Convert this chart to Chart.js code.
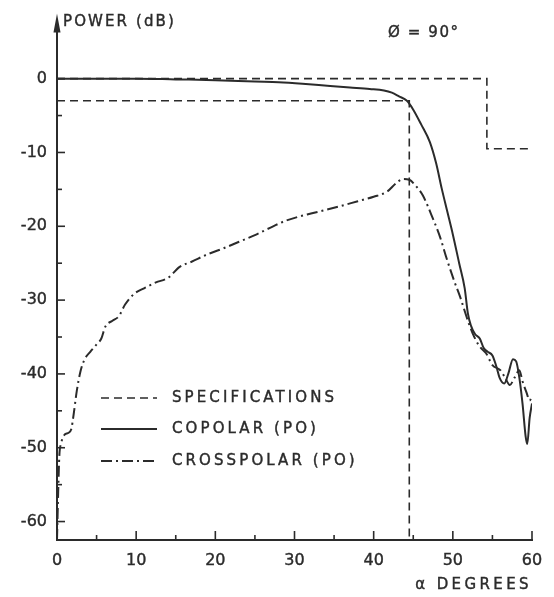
<!DOCTYPE html>
<html lang="en">
<head>
  <meta charset="UTF-8" />
  <title>Power pattern, phi = 90</title>
  <script src="https://cdn.jsdelivr.net/npm/chart.js"></script>
  <style>
    * { margin: 0; padding: 0; box-sizing: border-box; }
    body { background: #fff; }
    .wrap { width: 554px; height: 597px; }
  </style>
</head>
<body>
  <div class="wrap"><canvas id="plot"></canvas></div>
  <script>
    // spec mask: 0 dB up to 54.3 deg then -9.5 dB; -3 dB line up to 44.5 deg then vertical cut
    const specDeg = [0, 54.3, 54.3, 60, null, 0, 44.5, 44.5];
    const specDb  = [0, 0, -9.5, -9.5, null, -3, -3, -62.5];

    const copolarDeg = [0, 5, 10, 15, 20, 25, 28, 31, 34.5, 37, 39.5, 41.3, 42.3, 43.2, 44.2, 45, 46, 47.1, 47.9, 48.6, 49.3, 50, 50.8, 51.5, 51.9, 52.3, 52.8, 53.4, 53.9, 54.4, 55, 55.5, 55.9, 56.5, 57, 57.6, 58, 58.4, 58.8, 59.2, 59.4, 59.7, 60];
    const copolarDb  = [0, 0, 0, -0.1, -0.2, -0.4, -0.5, -0.7, -1.0, -1.2, -1.4, -1.6, -1.9, -2.4, -3.0, -4.2, -6.2, -8.6, -11.5, -14.9, -18, -21.1, -25, -28.4, -31.8, -33.5, -34.6, -35.2, -36.5, -37, -37.5, -39, -40.5, -41.3, -40, -38, -38.3, -40.5, -44, -48.5, -49.5, -46, -44];

    const crossDeg = [0, 0.15, 0.3, 0.5, 0.9, 1.4, 1.8, 2.1, 2.5, 3.0, 3.5, 4.2, 5.0, 5.6, 6.1, 7.0, 7.8, 8.6, 9.8, 11, 12.5, 14, 15.5, 17, 19, 21, 23, 25, 27.3, 29, 31.6, 33.5, 35.7, 38, 40, 41.7, 42.8, 43.7, 44.5, 45.3, 46.2, 47.5, 48.4, 49.2, 50.2, 50.9, 51.9, 52.5, 53.4, 54.2, 55, 56, 56.6, 57.2, 57.8, 58.4, 58.8, 59.3, 59.7, 60];
    const crossDb  = [-62.5, -56, -51, -49.5, -48.3, -48, -47.5, -45.5, -42.3, -39.5, -38, -37, -36, -35.2, -33.6, -32.8, -32.2, -30.6, -29.1, -28.4, -27.6, -27, -25.5, -24.8, -23.8, -23, -22.1, -21.2, -20, -19.2, -18.4, -17.9, -17.3, -16.6, -16, -15.3, -14.2, -13.6, -13.7, -14.5, -15.8, -19, -21.5, -24.3, -27.5, -29.5, -32.8, -34.5, -36.3, -37.2, -38.8, -39.5, -40.5, -41.5, -40.5, -39.5, -41, -42.5, -43.6, -43];

    const xTicks = [0, 10, 20, 30, 40, 50, 60];
    const yTicks = [0, -10, -20, -30, -40, -50, -60];

    const ink = '#2b2b2b';
    const pts = (xs, ys) => xs.map((x, i) => ({ x: x === null ? NaN : x, y: ys[i] }));

    function label(ctx, text, x, y) {
      ctx.fillText(text, x, y);
      ctx.strokeText(text, x, y);
    }

    // inward tick marks, axis arrow, free labels and the legend block
    const decor = {
      id: 'decor',
      afterDraw(chart) {
        const { ctx, chartArea, scales } = chart;
        const ax = scales.x.getPixelForValue(0);
        const ay = chartArea.bottom;
        ctx.save();
        ctx.fillStyle = ink;
        ctx.strokeStyle = ink;
        ctx.lineWidth = 1.6;

        scales.x.ticks.forEach(t => {
          const px = scales.x.getPixelForValue(t.value);
          const len = xTicks.includes(t.value) ? 9 : 5;
          ctx.beginPath(); ctx.moveTo(px, ay); ctx.lineTo(px, ay - len); ctx.stroke();
        });
        scales.y.ticks.forEach(t => {
          const py = scales.y.getPixelForValue(t.value);
          const len = yTicks.includes(t.value) ? 8 : 5;
          ctx.beginPath(); ctx.moveTo(ax, py); ctx.lineTo(ax + len, py); ctx.stroke();
        });

        // arrow at top of power axis
        ctx.beginPath();
        ctx.moveTo(ax, chartArea.top - 6);
        ctx.lineTo(ax - 3.5, chartArea.top + 13);
        ctx.lineTo(ax + 3.5, chartArea.top + 13);
        ctx.closePath();
        ctx.fill();

        ctx.font = '15px "DejaVu Sans"';
        ctx.lineWidth = 0.4;
        ctx.letterSpacing = '2.1px';
        ctx.textBaseline = 'middle';
        ctx.textAlign = 'left';
        label(ctx, 'POWER (dB)', ax + 6, 22);
        ctx.letterSpacing = '1.6px';
        label(ctx, 'Ø = 90°', 388, 33);
        ctx.letterSpacing = '3.4px';
        ctx.textAlign = 'right';
        label(ctx, 'α DEGREES', scales.x.right, 585);

        // legend
        ctx.textAlign = 'left';
        ctx.letterSpacing = '3.1px';
        const rows = [398, 429, 461];
        chart.data.datasets.forEach((ds, i) => {
          const y = rows[i];
          ctx.beginPath();
          ctx.setLineDash(ds.borderDash || []);
          ctx.lineWidth = ds.borderWidth;
          ctx.moveTo(101, y);
          ctx.lineTo(157, y);
          ctx.stroke();
          ctx.setLineDash([]);
          ctx.lineWidth = 0.4;
          label(ctx, ds.label, 172, y);
        });
        ctx.restore();
      }
    };

    new Chart(document.getElementById('plot'), {
      type: 'line',
      data: {
        datasets: [
          { label: 'SPECIFICATIONS', data: pts(specDeg, specDb), borderColor: ink, borderWidth: 1.6, borderDash: [8, 5], pointRadius: 0, spanGaps: false, tension: 0 },
          { label: 'COPOLAR (PO)', data: pts(copolarDeg, copolarDb), borderColor: ink, borderWidth: 2, pointRadius: 0, cubicInterpolationMode: 'monotone' },
          { label: 'CROSSPOLAR (PO)', data: pts(crossDeg, crossDb), borderColor: ink, borderWidth: 2, borderDash: [11, 4, 2, 4], pointRadius: 0, cubicInterpolationMode: 'monotone' }
        ]
      },
      options: {
        responsive: true,
        maintainAspectRatio: false,
        animation: false,
        layout: { padding: { top: 9.5, right: 22, left: 0, bottom: 0 } },
        plugins: { legend: { display: false }, tooltip: { enabled: false } },
        scales: {
          x: {
            type: 'linear', min: 0, max: 60,
            afterBuildTicks: s => { s.ticks = [0, 5, 10, 15, 20, 25, 30, 35, 40, 45, 50, 55, 60].map(v => ({ value: v })); },
            afterFit: s => { s.height = 57; },
            border: { color: ink, width: 2 },
            grid: { drawOnChartArea: false, drawTicks: false },
            ticks: {
              padding: 11, color: ink, font: { family: 'DejaVu Sans', size: 16 }, maxRotation: 0,
              textStrokeColor: ink, textStrokeWidth: 0.4,
              callback: v => xTicks.includes(v) ? String(v) : ''
            }
          },
          y: {
            type: 'linear', min: -62.5, max: 8,
            afterBuildTicks: s => { s.ticks = [0, -5, -10, -15, -20, -25, -30, -35, -40, -45, -50, -55, -60].map(v => ({ value: v })); },
            afterFit: s => { s.width = 57; },
            border: { color: ink, width: 2 },
            grid: { drawOnChartArea: false, drawTicks: false },
            ticks: {
              padding: 10, color: ink, font: { family: 'DejaVu Sans', size: 16 },
              textStrokeColor: ink, textStrokeWidth: 0.4,
              callback: v => yTicks.includes(v) ? String(v) : ''
            }
          }
        }
      },
      plugins: [decor]
    });
  </script>
</body>
</html>
